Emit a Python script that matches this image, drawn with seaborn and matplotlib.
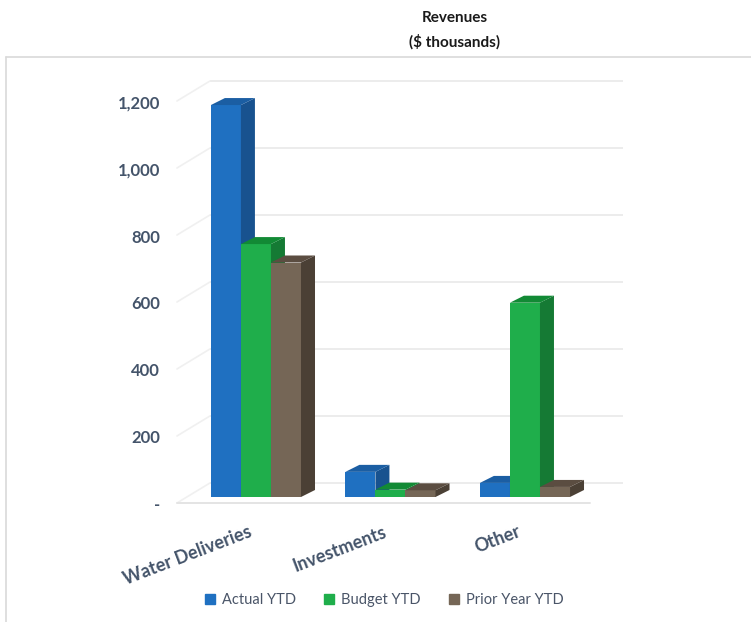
import matplotlib
matplotlib.use("Agg")
import matplotlib.pyplot as plt
import seaborn as sns
import pandas as pd
import numpy as np
from matplotlib.patches import Polygon
from matplotlib.lines import Line2D
from matplotlib.transforms import ScaledTranslation

# ---------------- data ----------------
categories = ["Water Deliveries", "Investments", "Other"]
series = ["Actual YTD", "Budget YTD", "Prior Year YTD"]
actual_ytd = [1170, 75, 42]
budget_ytd = [755, 22, 580]
prior_year_ytd = [700, 20, 30]
y_ticks = [0, 200, 400, 600, 800, 1000, 1200]
y_tick_labels = ["-", "200", "400", "600", "800", "1,000", "1,200"]
title_lines = ["Revenues", "($ thousands)"]

# ---------------- styles ----------------
front_colors = ["#1f70c1", "#1fae4b", "#756656"]
side_colors = ["#18528f", "#157a34", "#4b4035"]
top_colors = ["#1b5ea3", "#128a35", "#5b4d41"]
text_color = "#44546a"
grid_color = "#ececec"

df = pd.DataFrame({
    "Category": categories * 3,
    "Series": np.repeat(series, len(categories)),
    "Value": actual_ytd + budget_ytd + prior_year_ytd,
})

sns.set_theme(style="white")
plt.rcParams["font.family"] = ["Lato", "DejaVu Sans"]

W, H = 751, 622
fig = plt.figure(figsize=(W / 100, H / 100), dpi=100)
fig.patch.set_facecolor("white")

# axes in pixel layout
ax_l, ax_r, ax_t, ax_b = 170, 630, 60, 512
ax = fig.add_axes([ax_l / W, (H - ax_b) / H, (ax_r - ax_l) / W, (ax_b - ax_t) / H])
ax.set_facecolor("none")

sns.barplot(data=df, x="Category", y="Value", hue="Series", order=categories,
            hue_order=series, palette=front_colors, width=0.67, saturation=1,
            legend=False, ax=ax, linewidth=0)

xlim = (-0.639, 2.781)
ylim = (-44.8, 1304.5)
ax.set_xlim(*xlim)
ax.set_ylim(*ylim)

sx = (ax_r - ax_l) / (xlim[1] - xlim[0])  # px per x unit
sy = (ax_b - ax_t) / (ylim[1] - ylim[0])  # px per y unit

# 3D depth for bars
dx, dy = 14 / sx, 7 / sy

bars = list(ax.patches)
bars_sorted = sorted(bars, key=lambda p: p.get_x())
for rank, p in enumerate(bars_sorted):
    x, w, h = p.get_x(), p.get_width(), p.get_height()
    fc = p.get_facecolor()
    idx = int(np.argmin([np.sum((np.array(matplotlib.colors.to_rgb(c)) - np.array(fc[:3])) ** 2)
                         for c in front_colors]))
    z = 3 + rank * 0.1
    p.set_zorder(z)
    side = Polygon([(x + w, 0), (x + w + dx, dy), (x + w + dx, h + dy), (x + w, h)],
                   closed=True, facecolor=side_colors[idx], edgecolor="none", zorder=z + 0.01)
    top = Polygon([(x, h), (x + dx, h + dy), (x + w + dx, h + dy), (x + w, h)],
                  closed=True, facecolor=top_colors[idx], edgecolor="none", zorder=z + 0.02)
    ax.add_patch(side)
    ax.add_patch(top)

# walls / gridlines
fx, fy = -10 / sx, -6 / sy   # front plane offset
bx, by = 23 / sx, 14 / sy    # back plane offset
xL, xR = -0.513, 2.558
for v in y_ticks:
    ax.plot([xL + bx, xR + bx], [v + by, v + by], color=grid_color, lw=1.4, zorder=1,
            solid_capstyle="butt")
    ax.plot([xL + fx, xL + bx], [v + fy, v + by], color="#f0f0f0", lw=1.2, zorder=1)
ax.plot([xL + fx, xR + fx], [fy, fy], color="#e4e4e4", lw=1.4, zorder=1)

# axes styling
for s in ax.spines.values():
    s.set_visible(False)
ax.set_xlabel("")
ax.set_ylabel("")
ax.grid(False)
ax.set_yticks(y_ticks)
ax.set_yticklabels(y_tick_labels, fontsize=12, fontweight="bold", color=text_color)
ax.tick_params(axis="y", length=0, pad=7.2)
ax.set_xticks(range(len(categories)))
ax.set_xticklabels(categories, fontsize=13, fontweight="bold", color=text_color,
                   rotation=21, ha="right", rotation_mode="anchor")
ax.tick_params(axis="x", length=0, pad=8)

off_y = ScaledTranslation(0, -0.07, fig.dpi_scale_trans)
for lab in ax.get_yticklabels():
    lab.set_transform(lab.get_transform() + off_y)
off_x = ScaledTranslation(-0.08, 0, fig.dpi_scale_trans)
for lab in ax.get_xticklabels():
    lab.set_transform(lab.get_transform() + off_x)

# title
fig.text(455 / W, 1 - 18 / H, title_lines[0], ha="center", va="center",
         fontsize=11, fontweight="bold", color="#1a1a1a")
fig.text(455 / W, 1 - 42 / H, title_lines[1], ha="center", va="center",
         fontsize=11, fontweight="bold", color="#1a1a1a")

# chart border
fig.add_artist(Line2D([6 / W, 6 / W], [0, 1 - 57 / H], color="#d9d9d9", lw=1.2,
                      transform=fig.transFigure))
fig.add_artist(Line2D([6 / W, 1], [1 - 57 / H, 1 - 57 / H], color="#d9d9d9", lw=1.2,
                      transform=fig.transFigure))

# legend
handles = [Line2D([], [], marker="s", linestyle="none", markersize=7.5,
                  markerfacecolor=c, markeredgecolor=c) for c in front_colors]
fig.legend(handles, series, loc="center", bbox_to_anchor=(383 / W, 1 - 600 / H),
           ncol=3, frameon=False, fontsize=10.5, handletextpad=0.3,
           columnspacing=1.8, labelcolor="#4a5568", handlelength=1.0)

fig.savefig("out.png", dpi=100)
